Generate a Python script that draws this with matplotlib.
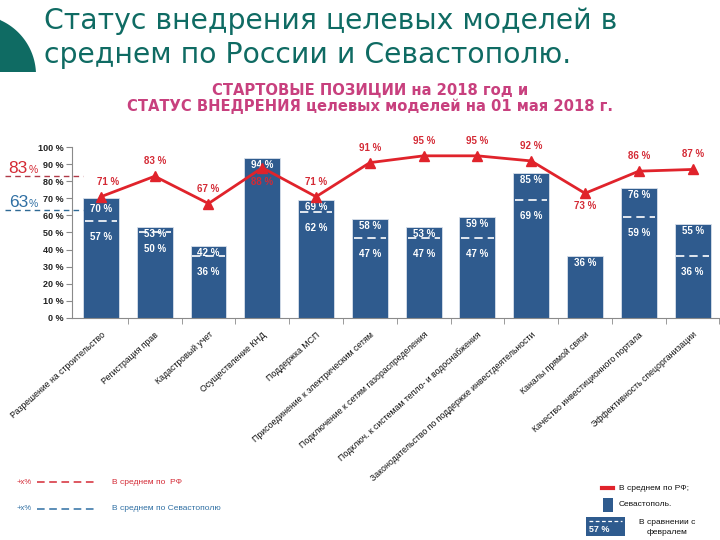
import matplotlib
matplotlib.use("Agg")
import matplotlib.pyplot as plt
import numpy as np
from matplotlib.patches import Rectangle, Polygon
from matplotlib.lines import Line2D

plt.rcParams['font.family'] = ['Liberation Sans', 'DejaVu Sans']

# ---------------- data ----------------
categories = [
    "Разрешение на строительство",
    "Регистрация прав",
    "Кадастровый учет",
    "Осуществление КНД",
    "Поддержка МСП",
    "Присоединение к электрическим сетям",
    "Подключение к сетям газораспределения",
    "Подключ. к системам тепло- и водоснабжения",
    "Законодательство по поддержке инвестдеятельности",
    "Каналы прямой связи",
    "Качество инвестиционного портала",
    "Эффективность спецорганизации",
]
sev_may = [70, 53, 42, 94, 69, 58, 53, 59, 85, 36, 76, 55]
sev_feb = [57, 50, 36, None, 62, 47, 47, 47, 69, None, 59, 36]
rf_avg = [71, 83, 67, 88, 71, 91, 95, 95, 92, 73, 86, 87]
rf_mean = 83
sev_mean = 63
yticks = list(range(0, 101, 10))

title_lines = ["Статус внедрения целевых моделей в", "среднем по России и Севастополю."]
subtitle_lines = ["СТАРТОВЫЕ ПОЗИЦИИ на 2018 год и", "СТАТУС ВНЕДРЕНИЯ целевых моделей на 01 мая 2018 г."]

# ---------------- styles ----------------
W, H = 720, 540
TEAL = "#0f6b63"
BAR = "#2f5b8e"
RED = "#e0232b"
RED_TXT = "#d42a35"
BLUE_TXT = "#2f6fa3"
PINK = "#c8407e"

fig = plt.figure(figsize=(7.2, 5.4), dpi=100)

def fx(px):
    return px / W

def fy(py):
    return 1 - py / H

# decorative teal shape at top-left
t = np.linspace(-np.pi / 2, 0, 60)
cx, cy, r = -24, 75, 60
pts = [(fx(cx + r * np.cos(a)), fy(cy + r * np.sin(a))) for a in t]
pts = [(max(p[0], 0), p[1]) for p in pts]
pts = [(x, y) for (x, y) in pts if y >= fy(72) - 1e-9]
pts = [(0, fy(72))] + pts + [(fx(36), fy(72))]
fig.patches.append(Polygon(pts, closed=True, transform=fig.transFigure,
                           facecolor=TEAL, edgecolor='none'))

# title
fig.text(fx(44), fy(29), title_lines[0], fontsize=20.3, color=TEAL, va='baseline', ha='left',
         family='DejaVu Sans')
fig.text(fx(44), fy(63), title_lines[1], fontsize=20.3, color=TEAL, va='baseline', ha='left',
         family='DejaVu Sans')

# subtitle
fig.text(fx(370), fy(90), subtitle_lines[0], fontsize=10.6, color=PINK, weight='bold',
         ha='center', va='center', family='DejaVu Sans')
fig.text(fx(370), fy(106), subtitle_lines[1], fontsize=10.6, color=PINK, weight='bold',
         ha='center', va='center', family='DejaVu Sans')

# ---------------- axes ----------------
ax = fig.add_axes([fx(72), fy(317.7), fx(719.5) - fx(72), fy(147.3) - fy(317.7)])
x = np.arange(len(categories))
ax.set_xlim(-0.537, 11.45)
ax.set_ylim(0, 100)

ax.bar(x, sev_may, width=0.667, color=BAR, edgecolor='#d8e0ea', linewidth=0.6, zorder=2)

for spine in ['top', 'right']:
    ax.spines[spine].set_visible(False)
for spine in ['left', 'bottom']:
    ax.spines[spine].set_color('#8a8a8a')
    ax.spines[spine].set_linewidth(0.8)

ax.set_yticks(yticks)
ax.set_yticklabels([f"{v} %" for v in yticks], fontsize=6.5, weight='bold', color='#222222')
ax.tick_params(axis='y', length=4, color='#8a8a8a', pad=2)

ax.set_xticks(x)
ax.set_xticklabels(categories, rotation=42, ha='right', rotation_mode='anchor',
                   fontsize=6.3, color='#111111')
ax.tick_params(axis='x', which='major', length=0, pad=9)
ax.set_xticks(np.arange(len(categories)) + 0.5, minor=True)
ax.tick_params(axis='x', which='minor', length=4, color='#8a8a8a')

def off_text(xv, yv, dx_px, dy_px, s, **kw):
    ax.annotate(s, (xv, yv), xytext=(dx_px * 0.72, -dy_px * 0.72), textcoords='offset points',
                ha='center', va='center', annotation_clip=False, **kw)

# bar labels and February dashes
top_off = {0: 11}
for i, (m, f) in enumerate(zip(sev_may, sev_feb)):
    off_text(i, m, 0, top_off.get(i, 7), f"{m} %", fontsize=7, color='white', weight='bold', zorder=5)
    if f is not None:
        ax.hlines(f, i - 0.3, i + 0.3, colors='white', linestyles=(0, (5, 3)), lw=1.2, zorder=4)
        off_text(i, f, 0, 16, f"{f} %", fontsize=7, color='white', weight='bold', zorder=5)

# RF average line
ax.plot(x, rf_avg, color=RED, lw=2, marker='^', ms=7.5, zorder=6, clip_on=False)
below = {3: 14, 9: 13}
dxs = {0: 7}
for i, v in enumerate(rf_avg):
    dy = below.get(i, -15)
    off_text(i, v, dxs.get(i, 0), dy, f"{v} %", fontsize=7, color=RED_TXT, weight='bold', zorder=7)

# mean lines at left
xl0 = (5 - 101) / 54
xl1 = (83 - 101) / 54
ax.plot([xl0, xl1], [rf_mean, rf_mean], color='#b03a48', ls=(0, (4, 3)), lw=1, clip_on=False, zorder=3)
ax.plot([xl0, xl1], [sev_mean, sev_mean], color='#2f6a95', ls=(0, (4, 3)), lw=1, clip_on=False, zorder=3)
off_text(xl0, rf_mean, 13, -8, f"{rf_mean}", fontsize=12.5, color=RED_TXT, zorder=3)
off_text(xl0, rf_mean, 27.5, -6.5, "%", fontsize=7.5, color=RED_TXT, zorder=3)
off_text(xl0, sev_mean, 13, -8, f"{sev_mean}", fontsize=12.5, color=BLUE_TXT, zorder=3)
off_text(xl0, sev_mean, 27.5, -6.5, "%", fontsize=7.5, color=BLUE_TXT, zorder=3)

# ---------------- bottom-left legend ----------------
fig.text(fx(17), fy(482), "+x%", fontsize=5.5, color=RED_TXT, va='center')
fig.lines.append(Line2D([fx(37), fx(98)], [fy(482), fy(482)], transform=fig.transFigure,
                        color=RED_TXT, ls=(0, (5, 3)), lw=1.1))
fig.text(fx(112), fy(482), "В среднем по  РФ", fontsize=6, color=RED_TXT, va='center')
fig.text(fx(17), fy(509), "+x%", fontsize=5.5, color=BLUE_TXT, va='center')
fig.lines.append(Line2D([fx(37), fx(98)], [fy(509), fy(509)], transform=fig.transFigure,
                        color=BLUE_TXT, ls=(0, (5, 3)), lw=1.1))
fig.text(fx(112), fy(509), "В среднем по Севастополю", fontsize=6, color=BLUE_TXT, va='center')

# ---------------- bottom-right legend ----------------
fig.lines.append(Line2D([fx(602), fx(613)], [fy(488), fy(488)], transform=fig.transFigure,
                        color=RED, lw=3))
fig.text(fx(619), fy(488), "В среднем по РФ;", fontsize=6, color='#111111', va='center')
fig.patches.append(Rectangle((fx(603), fy(512)), fx(613) - fx(603), fy(498) - fy(512),
                             transform=fig.transFigure, facecolor=BAR, edgecolor='none'))
fig.text(fx(619), fy(504), "Севастополь.", fontsize=6, color='#111111', va='center')
fig.patches.append(Rectangle((fx(586), fy(536)), fx(625) - fx(586), fy(517) - fy(536),
                             transform=fig.transFigure, facecolor=BAR, edgecolor='none'))
fig.lines.append(Line2D([fx(589), fx(622)], [fy(520.5), fy(520.5)], transform=fig.transFigure,
                        color='white', ls=(0, (3, 2)), lw=0.9))
fig.text(fx(599), fy(529), f"{sev_feb[0]} %", fontsize=6.5, color='white', weight='bold',
         ha='center', va='center')
fig.text(fx(667), fy(522), "В сравнении с", fontsize=6, color='#111111', ha='center', va='center')
fig.text(fx(667), fy(532), "февралем", fontsize=6, color='#111111', ha='center', va='center')

fig.savefig("out.png", dpi=100)
